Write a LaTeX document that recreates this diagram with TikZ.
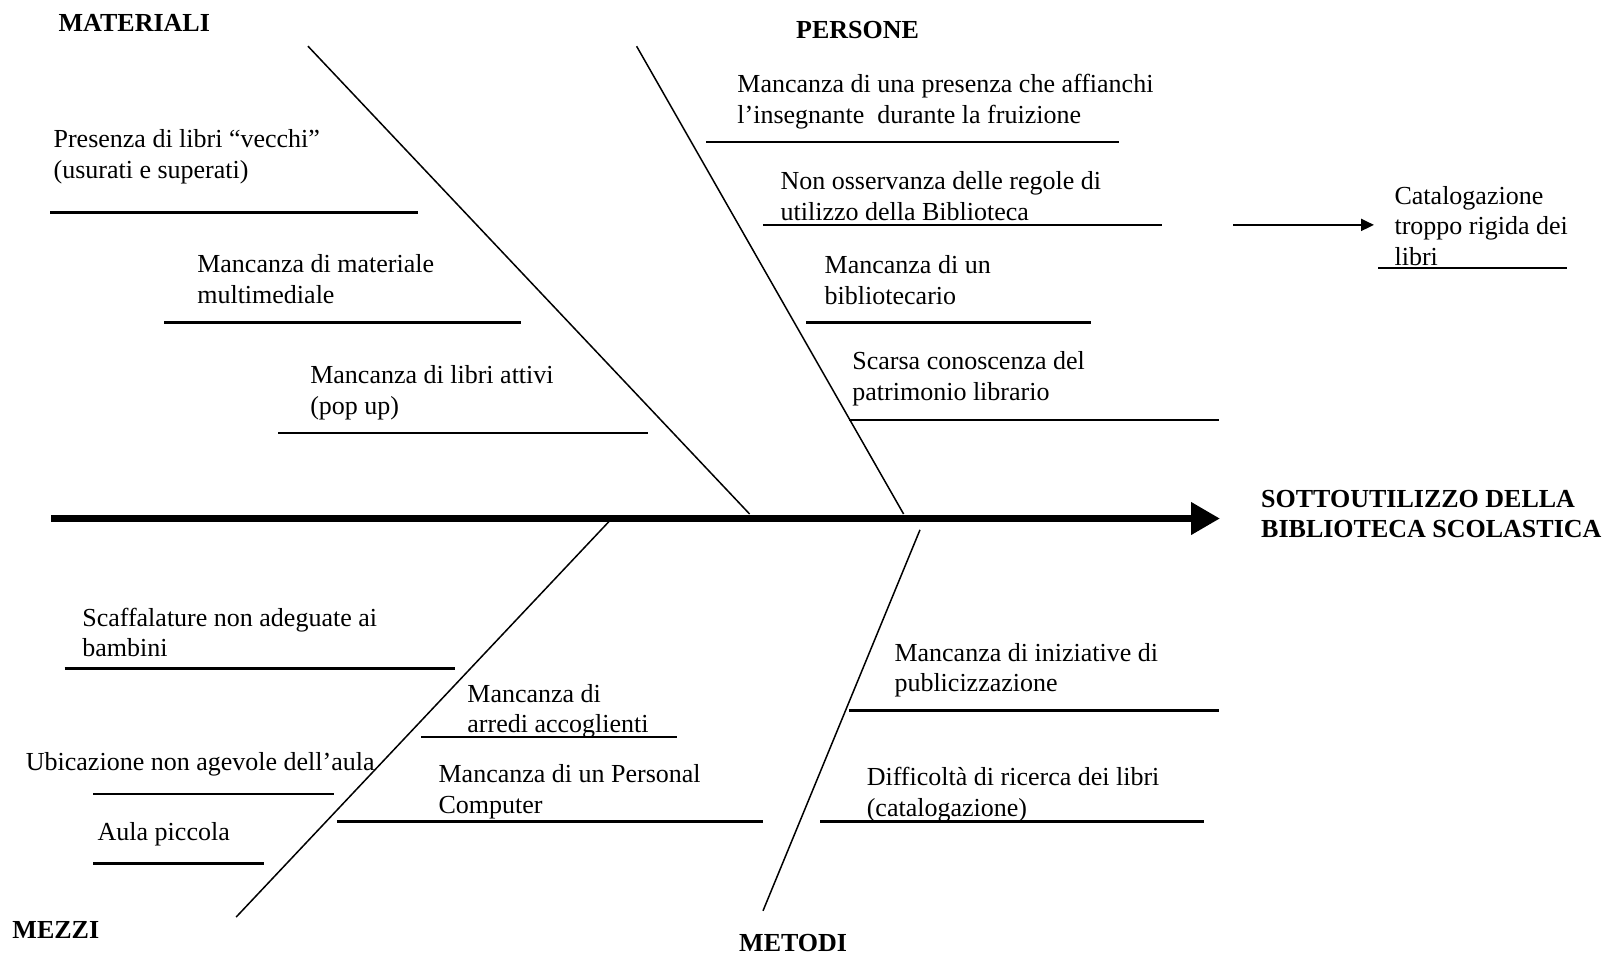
\documentclass[tikz,border=0pt]{standalone}
\usepackage{fontspec}
\setmainfont{Liberation Serif}
\usetikzlibrary{arrows.meta}
\begin{document}
\begin{tikzpicture}[x=1pt,y=-1pt,
  txt/.style={anchor=base west,inner sep=0pt,align=left,font=\fontsize{26}{30.8}\selectfont},
  hdr/.style={anchor=base west,inner sep=0pt,align=left,font=\fontsize{26}{30.8}\selectfont\bfseries},
  bone/.style={line width=1.5pt},
  sub/.style={line width=2.2pt},
  spine/.style={line width=7.2pt,-{Triangle[length=29pt,width=31pt]}},
  small/.style={line width=2pt,-{Triangle[length=13pt,width=12pt]}}]
\useasboundingbox (0,0) rectangle (1610,954);
% headers (base anchor = baseline of the last line)
\node[hdr] (hmat) at (58.5,31) {MATERIALI};
\node[hdr] (hper) at (796,38) {PERSONE};
\node[hdr] (hmez) at (12.3,938) {MEZZI};
\node[hdr] (hmet) at (739,951) {METODI};
\node[hdr] (hres) at (1261,537.8) {SOTTOUTILIZZO DELLA\\BIBLIOTECA SCOLASTICA};
% spine
\coordinate (s0) at (51.3,518.5);
\coordinate (s1) at (1220,518.5);
\draw[spine] (s0) -- (s1);
% bones
\coordinate (m0) at (308,46.2); \coordinate (m1) at (749.6,514);
\coordinate (p0) at (636.6,46.2); \coordinate (p1) at (903.6,514);
\coordinate (z0) at (608.9,521.6); \coordinate (z1) at (236.2,917);
\coordinate (t0) at (920,529.8); \coordinate (t1) at (763,910.8);
\draw[bone] (m0) -- (m1);
\draw[bone] (p0) -- (p1);
\draw[bone] (z0) -- (z1);
\draw[bone] (t0) -- (t1);
% MATERIALI
\node[txt] (a1) at (53.4,178.4) {Presenza di libri “vecchi”\\(usurati e superati)};
\coordinate (a1l) at (50.3,212.5); \coordinate (a1r) at (417.9,212.5);
\draw[sub] (a1l) -- (a1r);
\node[txt] (a2) at (197.1,303.7) {Mancanza di materiale\\multimediale};
\coordinate (a2l) at (164.3,322.4); \coordinate (a2r) at (520.6,322.4);
\draw[sub] (a2l) -- (a2r);
\node[txt] (a3) at (310.1,414.6) {Mancanza di libri attivi\\(pop up)};
\coordinate (a3l) at (278.3,433.3); \coordinate (a3r) at (647.9,433.3);
\draw[sub] (a3l) -- (a3r);
% PERSONE
\node[txt] (b1) at (737.2,123) {Mancanza di una presenza che affianchi\\l’insegnante\ \ durante la fruizione};
\coordinate (b1l) at (706.4,141.7); \coordinate (b1r) at (1119.2,141.7);
\draw[sub] (b1l) -- (b1r);
\node[txt] (b2) at (780.4,220.5) {Non osservanza delle regole di\\utilizzo della Biblioteca};
\coordinate (b2l) at (762.9,224.9); \coordinate (b2r) at (1162.3,224.9);
\draw[sub] (b2l) -- (b2r);
\node[txt] (b3) at (824.5,304.7) {Mancanza di un\\bibliotecario};
\coordinate (b3l) at (806,322.4); \coordinate (b3r) at (1090.5,322.4);
\draw[sub] (b3l) -- (b3r);
\node[txt] (b4) at (852.2,400.2) {Scarsa conoscenza del\\patrimonio librario};
\coordinate (b4l) at (849.2,420); \coordinate (b4r) at (1218.8,420);
\draw[sub] (b4l) -- (b4r);
% Catalogazione
\node[txt] (c1) at (1394.4,265.7) {Catalogazione\\troppo rigida dei\\libri};
\coordinate (c1l) at (1378,268); \coordinate (c1r) at (1566.9,268);
\draw[sub] (c1l) -- (c1r);
\coordinate (ca0) at (1233.2,224.9); \coordinate (ca1) at (1374,224.9);
\draw[small] (ca0) -- (ca1);
% MEZZI
\node[txt] (d1) at (82.1,656.9) {Scaffalature non adeguate ai\\bambini};
\coordinate (d1l) at (64.7,668.4); \coordinate (d1r) at (454.9,668.4);
\draw[sub] (d1l) -- (d1r);
\node[txt] (d2) at (467.2,732.9) {Mancanza di\\arredi accoglienti};
\coordinate (d2l) at (421,737.2); \coordinate (d2r) at (676.7,737.2);
\draw[sub] (d2l) -- (d2r);
\node[txt] (d3) at (25.7,770.9) {Ubicazione non agevole dell’aula};
\coordinate (d3l) at (93.4,793.7); \coordinate (d3r) at (333.7,793.7);
\draw[sub] (d3l) -- (d3r);
\node[txt] (d4) at (438.4,813) {Mancanza di un Personal\\Computer};
\coordinate (d4l) at (336.8,821.4); \coordinate (d4r) at (762.9,821.4);
\draw[sub] (d4l) -- (d4r);
\node[txt] (d5) at (97.5,840.7) {Aula piccola};
\coordinate (d5l) at (93.4,863.5); \coordinate (d5r) at (263.9,863.5);
\draw[sub] (d5l) -- (d5r);
% METODI
\node[txt] (e1) at (894.3,691.8) {Mancanza di iniziative di\\publicizzazione};
\coordinate (e1l) at (849.2,710.5); \coordinate (e1r) at (1218.8,710.5);
\draw[sub] (e1l) -- (e1r);
\node[txt] (e2) at (866.6,816.1) {Difficoltà di ricerca dei libri\\(catalogazione)};
\coordinate (e2l) at (820.4,821.4); \coordinate (e2r) at (1204.4,821.4);
\draw[sub] (e2l) -- (e2r);
\end{tikzpicture}
\end{document}
